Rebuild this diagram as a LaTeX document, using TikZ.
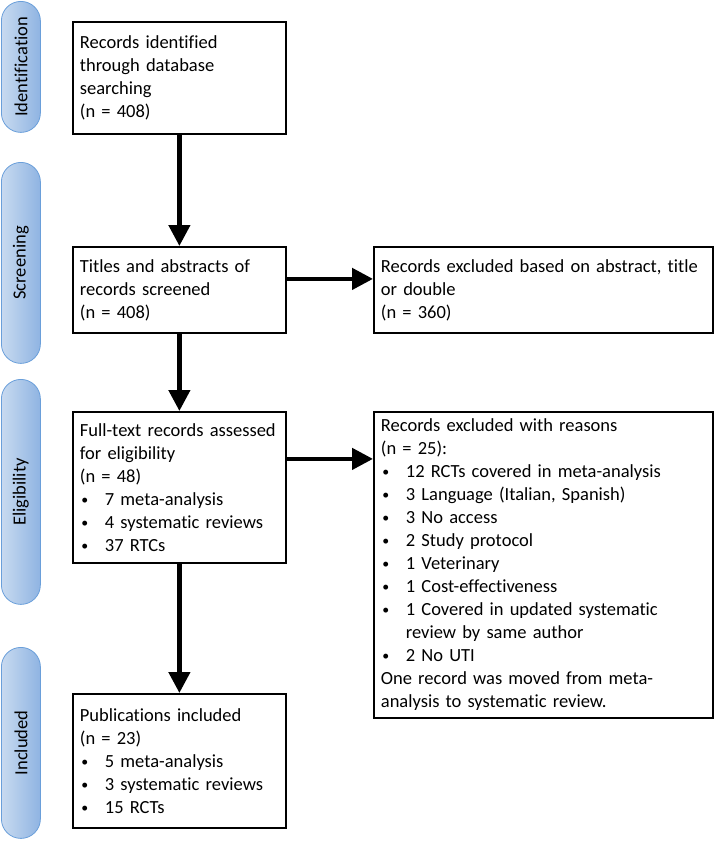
\documentclass[tikz,border=0pt]{standalone}
\usepackage{fontspec}
\setmainfont{Carlito}[Ligatures=NoCommon]
\usetikzlibrary{arrows.meta}
\hyphenpenalty=10000

\definecolor{phaseline}{HTML}{6A9FDA}
\definecolor{phaseleft}{HTML}{C8DAF0}
\definecolor{phaseright}{HTML}{8FB4E2}

\newcommand{\itm}{\makebox[25pt][l]{\hspace{1.5pt}\raisebox{1.2pt}{\scalebox{0.75}{\textbullet}}}}

\tikzset{
  box/.style={draw, line width=1.8pt, anchor=north west, inner xsep=7pt, inner ysep=0pt,
    align=left, font=\fontsize{18.5}{23}\selectfont},
  phase/.style={draw=phaseline, line width=0.8pt, rounded corners=19.5pt, left color=phaseleft,
    right color=phaseright, minimum width=39pt, anchor=north west, inner sep=0pt,
    font=\fontsize{18.5}{23}\selectfont},
  arr/.style={line width=4.5pt, -{Triangle[width=21pt,length=21pt]}},
}

\begin{document}
\begin{tikzpicture}[x=1pt,y=-1pt]
\useasboundingbox (0,0) rectangle (714,841);

% phases on the left
\node[phase, minimum height=131] (pid) at (1,1) {\rotatebox{90}{Identification}};
\node[phase, minimum height=201] (psc) at (1,162) {\rotatebox{90}{Screening}};
\node[phase, minimum height=225] (pel) at (1,379) {\rotatebox{90}{Eligibility}};
\node[phase, minimum height=191] (pin) at (1,647) {\rotatebox{90}{Included}};

% flow boxes
\node[box, minimum width=213, text width=199, minimum height=112] (ident) at (72,21)
  {Records identified\\through database\\searching\\(n = 408)};
\node[box, minimum width=213, text width=199, minimum height=86] (screen) at (72,246)
  {Titles and abstracts of\\records screened\\(n = 408)};
\node[box, minimum width=339, text width=325, minimum height=86] (excl) at (373,246)
  {Records excluded based on abstract, title\\or double\\(n = 360)};
\node[box, minimum width=213, text width=199, minimum height=151] (elig) at (72,411)
  {Full-text records assessed\\for eligibility\\(n = 48)\\
   \itm 7 meta-analysis\\\itm 4 systematic reviews\\\itm 37 RTCs};
\node[box, minimum width=339, text width=325, minimum height=306] (reasons) at (373,411)
  {Records excluded with reasons\\(n = 25):\\
   \itm 12 RCTs covered in meta-analysis\\
   \itm 3 Language (Italian, Spanish)\\
   \itm 3 No access\\
   \itm 2 Study protocol\\
   \itm 1 Veterinary\\
   \itm 1 Cost-effectiveness\\
   \itm 1 Covered in updated systematic\\
   \hspace*{25pt}review by same author\\
   \itm 2 No UTI\\
   One record was moved from meta-\\analysis to systematic review.};
\node[box, minimum width=213, text width=199, minimum height=134] (incl) at (72,693)
  {Publications included\\(n = 23)\\
   \itm 5 meta-analysis\\\itm 3 systematic reviews\\\itm 15 RCTs};

% arrows
\draw[arr] (ident) -- (screen);
\draw[arr] (screen) -- (elig);
\draw[arr] (elig) -- (incl);
\draw[arr] ([yshift=11pt]screen.east) -- ([yshift=11pt]screen.east -| excl.west);
\draw[arr] ([yshift=28.5pt]elig.east) -- ([yshift=28.5pt]elig.east -| reasons.west);
\end{tikzpicture}
\end{document}
